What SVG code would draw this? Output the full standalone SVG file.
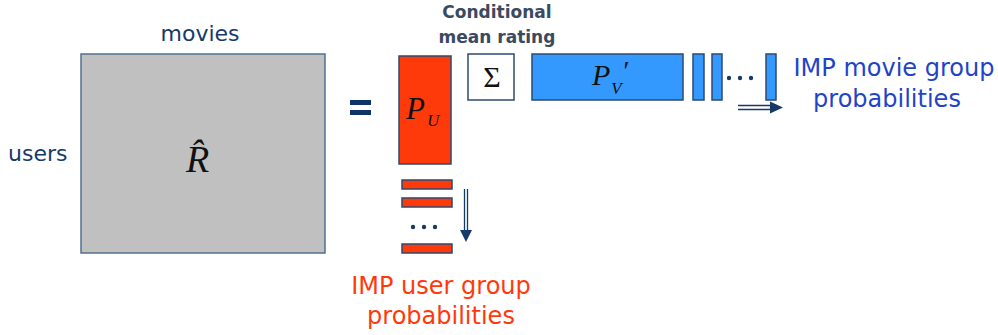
<svg xmlns="http://www.w3.org/2000/svg" width="998" height="335" viewBox="0 0 998 335">
<defs>
<style>
.lbl{font-family:"DejaVu Sans","Liberation Sans",sans-serif;}
.navy{fill:#163a68;font-size:22px;}
.math{font-family:"Liberation Serif","DejaVu Serif",serif;font-style:italic;fill:#111;}
.red{fill:#ff3a0a;stroke:#2c4a70;stroke-width:1.5;}
.blue{fill:#3399ff;stroke:#2c4a70;stroke-width:1.5;}
.dot{fill:#163a68;}
</style>
</defs>
<rect width="998" height="335" fill="#fff"/>

<g id="matrix-R">
<rect x="81" y="54" width="244" height="199" fill="#c0c0c0" stroke="#52708f" stroke-width="1.5"/>
<text class="lbl navy" x="200" y="41" text-anchor="middle">movies</text>
<text class="lbl navy" x="8" y="161">users</text>
<text class="math" x="186" y="172" font-size="38">R&#x302;</text>
</g>

<g id="equals">
<rect x="350" y="100" width="21" height="5" fill="#0c3566"/>
<rect x="350" y="110" width="21" height="5" fill="#0c3566"/>
</g>

<g id="PU">
<rect class="red" x="399" y="56" width="52" height="108"/>
<text class="math" x="406" y="119" font-size="31">P<tspan font-size="17" dx="2" dy="7">U</tspan></text>
</g>

<g id="user-rows">
<rect class="red" x="402" y="180" width="50" height="9"/>
<rect class="red" x="402" y="198" width="50" height="9"/>
<circle class="dot" cx="413" cy="227" r="2.2"/>
<circle class="dot" cx="424" cy="227" r="2.2"/>
<circle class="dot" cx="435" cy="227" r="2.2"/>
<rect class="red" x="402" y="244" width="50" height="9"/>
</g>

<g id="sigma">
<rect x="468" y="54" width="46" height="46" fill="#fff" stroke="#2c4a70" stroke-width="1.5"/>
<text x="492" y="87" font-family="Liberation Serif,DejaVu Serif,serif" font-size="30" fill="#111" text-anchor="middle">Σ</text>
<text class="lbl" x="497" y="18" font-size="17" font-weight="bold" fill="#3b4a5f" text-anchor="middle">Conditional</text>
<text class="lbl" x="497" y="43" font-size="17" font-weight="bold" fill="#3b4a5f" text-anchor="middle">mean rating</text>
</g>

<g id="PV">
<rect class="blue" x="532" y="54" width="151" height="46"/>
<text class="math" x="592" y="85" font-size="30">P<tspan font-size="17" dx="1" dy="9">V</tspan><tspan font-size="28" dy="-14">′</tspan></text>
</g>

<g id="movie-cols">
<rect class="blue" x="693" y="54" width="11" height="46"/>
<rect class="blue" x="712" y="54" width="10" height="46"/>
<circle class="dot" cx="729" cy="78" r="2.2"/>
<circle class="dot" cx="740" cy="78" r="2.2"/>
<circle class="dot" cx="751" cy="78" r="2.2"/>
<rect class="blue" x="766" y="54" width="10" height="46"/>
</g>

<g id="connectors" stroke="#163a68" stroke-width="1.3" fill="none">
<line x1="464.5" y1="189" x2="464.5" y2="232"/>
<line x1="467.5" y1="189" x2="467.5" y2="232"/>
<path d="M460,230 L472,230 L466,242 Z" fill="#163a68" stroke="none"/>
<line x1="738" y1="105.5" x2="773" y2="105.5"/>
<line x1="738" y1="109.5" x2="773" y2="109.5"/>
<path d="M770,101.5 L783,107.5 L770,113.5 Z" fill="#163a68" stroke="none"/>
</g>

<g id="labels">
<text class="lbl" x="894" y="76" font-size="24" fill="#1f44c8" text-anchor="middle">IMP movie group</text>
<text class="lbl" x="887" y="107" font-size="24" fill="#1f44c8" text-anchor="middle">probabilities</text>
<text class="lbl" x="441" y="294" font-size="24" fill="#ff3a0a" text-anchor="middle">IMP user group</text>
<text class="lbl" x="441" y="324" font-size="24" fill="#ff3a0a" text-anchor="middle">probabilities</text>
</g>
</svg>
